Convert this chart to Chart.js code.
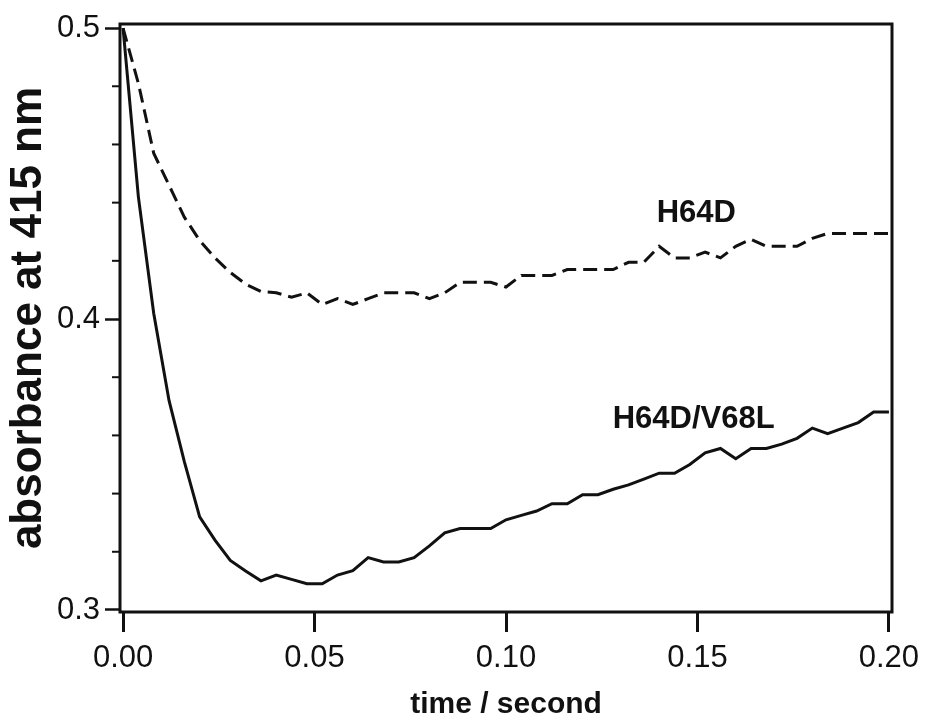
<!DOCTYPE html>
<html>
<head>
<meta charset="utf-8">
<script src="https://cdn.jsdelivr.net/npm/chart.js@4"></script>
<style>
  html, body { margin: 0; padding: 0; background: #fff; }
  #wrap { width: 928px; height: 718px; }
</style>
</head>
<body>
<div id="wrap"><canvas id="kineticsChart" width="928" height="718"></canvas></div>
<script>
// time points, seconds (0.004 s sampling)
var time = [];
for (var i = 0; i <= 50; i++) time.push(+(i * 0.004).toFixed(3));

// absorbance at 415 nm
var h64d = [0.500, 0.481, 0.457, 0.446, 0.435, 0.427, 0.421, 0.416, 0.412, 0.4095,
  0.409, 0.4075, 0.409, 0.405, 0.407, 0.405, 0.407, 0.409, 0.409, 0.409,
  0.407, 0.409, 0.4126, 0.4126, 0.4126, 0.411, 0.415, 0.415, 0.415, 0.417,
  0.417, 0.417, 0.417, 0.4195, 0.4195, 0.425, 0.421, 0.421, 0.423, 0.421,
  0.425, 0.4274, 0.425, 0.425, 0.425, 0.4277, 0.4294, 0.4294, 0.4294, 0.4294, 0.4294];

var h64dV68l = [0.500, 0.442, 0.402, 0.372, 0.351, 0.332, 0.324, 0.317, 0.3134, 0.310,
  0.312, 0.3105, 0.309, 0.309, 0.312, 0.3135, 0.318, 0.3165, 0.3165, 0.318,
  0.322, 0.3265, 0.328, 0.328, 0.328, 0.331, 0.3325, 0.334, 0.3365, 0.3365,
  0.3396, 0.3396, 0.3415, 0.343, 0.345, 0.347, 0.347, 0.350, 0.354, 0.3555,
  0.352, 0.3555, 0.3555, 0.357, 0.359, 0.3625, 0.3606, 0.3625, 0.3644, 0.368, 0.368];

var xTicks = [0, 0.05, 0.10, 0.15, 0.20];
var yTicks = [0.3, 0.4, 0.5];
var yMinorTicks = [0.32, 0.34, 0.36, 0.38, 0.42, 0.44, 0.46, 0.48];

// curve labels, placed in data units
var curveLabels = [
  { text: 'H64D', x: 0.1497, y: 0.4333 },
  { text: 'H64D/V68L', x: 0.149, y: 0.3625 }
];

function pts(ys) {
  return ys.map(function (v, i) { return { x: time[i], y: v }; });
}

var ink = '#111';
var tickFont = { family: '"Liberation Sans", Arial, sans-serif', size: 31 };

var framePlugin = {
  id: 'frame',
  afterDraw: function (chart) {
    var c = chart.ctx, a = chart.chartArea, ys = chart.scales.y;
    c.save();
    c.strokeStyle = ink;
    c.lineWidth = 3;
    c.strokeRect(a.left, a.top, a.right - a.left, a.bottom - a.top);
    // minor ticks on the y axis
    c.lineWidth = 2;
    yMinorTicks.forEach(function (v) {
      var py = ys.getPixelForValue(v);
      c.beginPath();
      c.moveTo(a.left - 8, py);
      c.lineTo(a.left, py);
      c.stroke();
    });
    // curve labels
    c.fillStyle = ink;
    c.font = 'bold 31px "Liberation Sans", Arial, sans-serif';
    c.textAlign = 'center';
    c.textBaseline = 'alphabetic';
    curveLabels.forEach(function (l) {
      c.fillText(l.text, chart.scales.x.getPixelForValue(l.x), ys.getPixelForValue(l.y));
    });
    c.restore();
  }
};

var ctx = document.getElementById('kineticsChart').getContext('2d');
var kineticsChart = new Chart(ctx, {
  type: 'line',
  data: {
    datasets: [{
      label: 'H64D',
      data: pts(h64d),
      borderColor: ink,
      borderWidth: 3,
      borderDash: [14, 7],
      pointRadius: 0,
      tension: 0,
      fill: false
    }, {
      label: 'H64D/V68L',
      data: pts(h64dV68l),
      borderColor: ink,
      borderWidth: 3,
      pointRadius: 0,
      tension: 0,
      fill: false
    }]
  },
  options: {
    responsive: false,
    animation: false,
    layout: { padding: { left: 0, top: 24, right: 36, bottom: 0 } },
    plugins: { legend: { display: false }, tooltip: { enabled: false } },
    scales: {
      x: {
        type: 'linear',
        min: -0.0008,
        max: 0.2008,
        afterBuildTicks: function (s) { s.ticks = xTicks.map(function (v) { return { value: v }; }); },
        afterFit: function (s) { s.height = 106; },
        ticks: {
          color: ink,
          font: tickFont,
          padding: 8,
          maxRotation: 0,
          callback: function (v) { return v.toFixed(2); }
        },
        grid: { drawOnChartArea: false, drawTicks: true, tickLength: 20, tickWidth: 3, tickColor: ink },
        border: { display: false },
        title: {
          display: true,
          text: 'time / second',
          color: ink,
          font: { family: '"Liberation Sans", Arial, sans-serif', size: 30, weight: 'bold' },
          padding: { top: 0, bottom: -5 }
        }
      },
      y: {
        min: 0.2993,
        max: 0.5014,
        afterBuildTicks: function (s) { s.ticks = yTicks.map(function (v) { return { value: v }; }); },
        afterFit: function (s) { s.width = 120; },
        ticks: {
          color: ink,
          font: tickFont,
          padding: 5,
          callback: function (v) { return v.toFixed(1); }
        },
        grid: { drawOnChartArea: false, drawTicks: true, tickLength: 15, tickWidth: 2.5, tickColor: ink },
        border: { display: false },
        title: {
          display: true,
          text: 'absorbance at 415 nm',
          color: ink,
          font: { family: '"Liberation Sans", Arial, sans-serif', size: 44, weight: 'bold' },
          padding: { top: 2, bottom: 0 }
        }
      }
    }
  },
  plugins: [framePlugin]
});
</script>
</body>
</html>
